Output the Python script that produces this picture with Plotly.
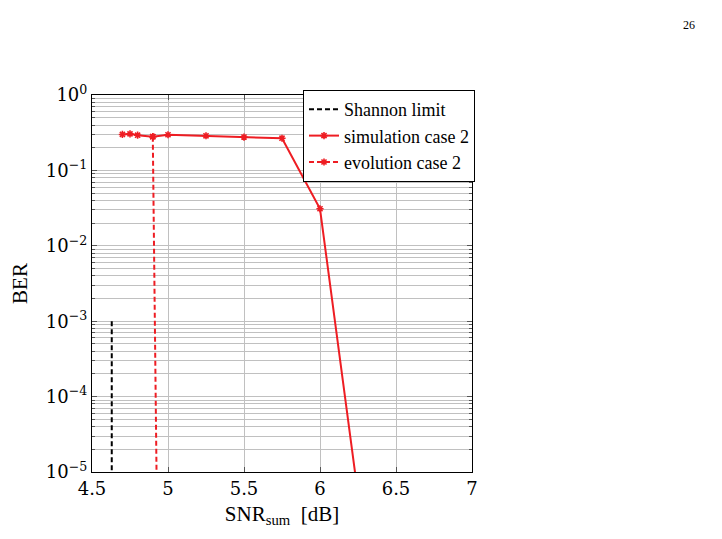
import plotly.graph_objects as go

# Data
shannon_x = [4.63, 4.63]
shannon_y = [1e-3, 1e-5]

sim_x = [4.7, 4.75, 4.8, 4.9, 5.0, 5.25, 5.5, 5.75, 6.0, 6.25]
sim_y = [0.30, 0.305, 0.293, 0.28, 0.297, 0.288, 0.277, 0.267, 0.031, 5e-6]

evo_x = [4.9, 4.93]
evo_y = [0.28, 1e-6]

x_ticks = [4.5, 5, 5.5, 6, 6.5, 7]
x_ticklabels = ["4.5", "5", "5.5", "6", "6.5", "7"]
y_ticks = [1, 1e-1, 1e-2, 1e-3, 1e-4, 1e-5]
y_ticklabels = ["10<sup>0</sup>", "10<sup>\u22121</sup>", "10<sup>\u22122</sup>",
                "10<sup>\u22123</sup>", "10<sup>\u22124</sup>", "10<sup>\u22125</sup>"]

RED = "#ee1d23"
FONT = "Liberation Serif"
MATHFONT = "DejaVu Serif"

fig = go.Figure()
fig.add_trace(go.Scatter(x=shannon_x, y=shannon_y, mode="lines", name="Shannon limit",
                         line=dict(color="black", width=2, dash="5px,3px")))
fig.add_trace(go.Scatter(x=sim_x, y=sim_y, mode="lines+markers", name="simulation case 2",
                         line=dict(color=RED, width=2),
                         marker=dict(symbol="asterisk-open", size=6, color=RED,
                                     line=dict(color=RED, width=1.6))))
fig.add_trace(go.Scatter(x=evo_x, y=evo_y, mode="lines+markers", name="evolution case 2",
                         line=dict(color=RED, width=2, dash="5px,3px"),
                         marker=dict(symbol="asterisk-open", size=6, color=RED,
                                     line=dict(color=RED, width=1.6))))

grid_color = "#c0c0c0"
pw, ph = 722 - 92 - 250, 539 - 95 - 67
fig.update_layout(
    width=722, height=539,
    margin=dict(l=92, r=250, t=95, b=67),
    paper_bgcolor="white", plot_bgcolor="white",
    font=dict(family=FONT, size=18, color="black"),
    showlegend=True,
    legend=dict(x=(303 - 92) / pw, y=(472 - 90) / ph, xanchor="left", yanchor="top",
                bgcolor="white", bordercolor="black", borderwidth=1,
                font=dict(family=FONT, size=18), tracegroupgap=0,
                itemwidth=30),
    xaxis=dict(range=[4.5, 7], tickvals=x_ticks, ticktext=x_ticklabels,
               showgrid=True, gridcolor=grid_color, gridwidth=1,
               ticks="inside", ticklen=5, tickcolor="#555",
               showline=True, linecolor="black", linewidth=1.2, mirror="allticks",
               zeroline=False,
               tickfont=dict(family=MATHFONT, size=18),
               title=dict(text="SNR<sub>sum</sub>  [dB]", font=dict(family=FONT, size=21), standoff=8)),
    yaxis=dict(type="log", range=[-5, 0], tickvals=y_ticks, ticktext=y_ticklabels,
               showgrid=True, gridcolor=grid_color, gridwidth=1,
               ticks="inside", ticklen=5, tickcolor="#555",
               minor=dict(dtick="D1", showgrid=True, gridcolor=grid_color, gridwidth=1,
                          ticks="inside", ticklen=3, tickcolor="#555"),
               showline=True, linecolor="black", linewidth=1.2, mirror="allticks",
               zeroline=False,
               tickfont=dict(family=MATHFONT, size=18),
               title=dict(text="BER", font=dict(family=FONT, size=21), standoff=12)),
    annotations=[dict(text="26", x=(697 - 92) / pw, y=(539 - 67 - 16) / ph,
                      xref="paper", yref="paper", showarrow=False,
                      font=dict(family=FONT, size=12))],
)

fig.write_html("out.html")
